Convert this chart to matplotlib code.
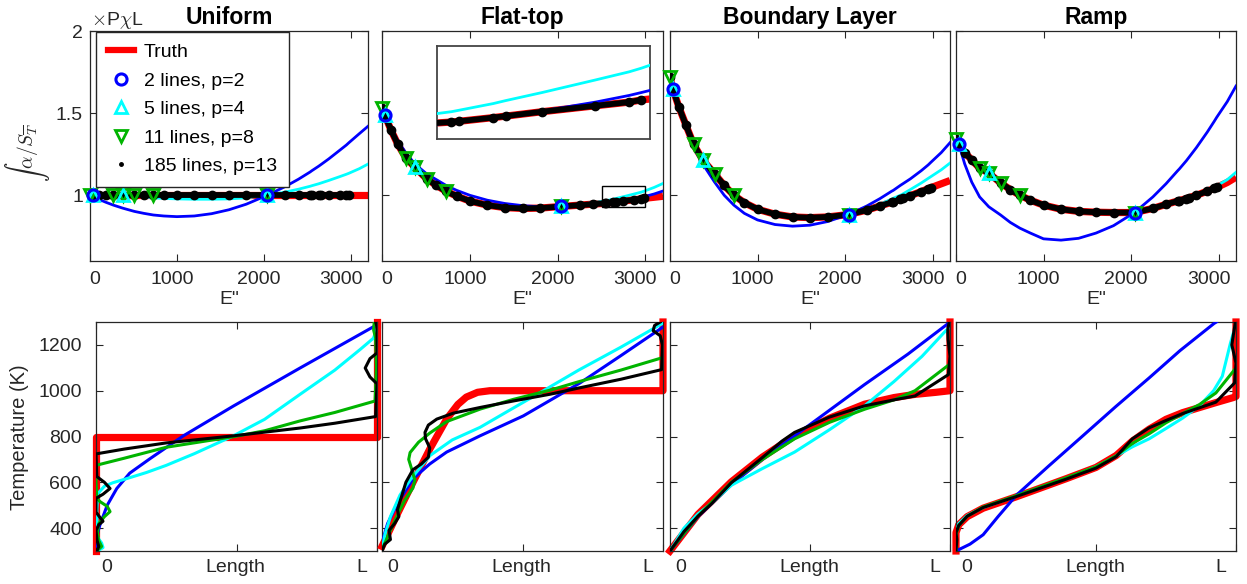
import matplotlib
matplotlib.use('Agg')
import matplotlib.pyplot as plt
from matplotlib.lines import Line2D
from matplotlib.patches import Rectangle
from matplotlib.transforms import ScaledTranslation

plt.rcParams['font.family'] = ['Liberation Sans', 'DejaVu Sans']
plt.rcParams['mathtext.fontset'] = 'cm'

# ── top row: E'' grid and the curves ─────────────────────────────────────────
E_GRID = [0, 30, 100, 180, 270, 375, 510, 620, 730, 850, 1000, 1200, 1400, 1600, 1800,
          2040, 2250, 2400, 2534, 2552, 2632, 2661, 2747, 2872, 2951, 2980, 3100, 3200]

LINES_2 = [30, 2040]
LINES_5 = [30, 375, 2040]
LINES_11 = [0, 270, 375, 510, 730, 2040]
LAST_185 = 2980          # the 185 lines run up to about here

TRUTH_UNI = [1.0, 1.0, 1.0, 1.0, 1.0, 1.0, 1.0, 1.0, 1.0, 1.0, 1.0, 1.0, 1.0, 1.0,
             1.0, 1.0, 1.0, 1.0, 1.0, 1.0, 1.0, 1.0, 1.0, 1.0, 1.0, 1.0, 1.0, 1.0]
BLUE_UNI = [1.0, 0.992, 0.976, 0.958, 0.940, 0.922, 0.902, 0.890, 0.880, 0.874, 0.870, 0.874,
            0.888, 0.912, 0.946, 1.0, 1.054, 1.098, 1.142, 1.149, 1.177, 1.188, 1.221, 1.273,
            1.306, 1.320, 1.375, 1.420]
CYAN_UNI = [1.0, 1.0, 0.999, 0.998, 0.999, 1.0, 0.995, 0.990, 0.985, 0.981, 0.978, 0.976,
            0.976, 0.978, 0.985, 1.0, 1.020, 1.037, 1.055, 1.058, 1.070, 1.075, 1.090, 1.113,
            1.128, 1.134, 1.162, 1.190]

TRUTH_FLAT = [1.53, 1.49, 1.40, 1.31, 1.23, 1.17, 1.10, 1.06, 1.025, 0.995, 0.965, 0.94,
              0.925, 0.92, 0.922, 0.932, 0.94, 0.946, 0.951, 0.952, 0.957, 0.959, 0.965,
              0.973, 0.978, 0.981, 0.988, 0.994]
BLUE_FLAT = [1.52, 1.49, 1.41, 1.33, 1.26, 1.19, 1.13, 1.095, 1.06, 1.03, 1.0, 0.97, 0.95,
             0.937, 0.93, 0.932, 0.937, 0.943, 0.950, 0.951, 0.957, 0.959, 0.966, 0.978,
             0.987, 0.991, 1.008, 1.026]
CYAN_FLAT = [1.52, 1.49, 1.40, 1.31, 1.235, 1.19, 1.11, 1.065, 1.03, 1.0, 0.97, 0.943,
             0.928, 0.922, 0.923, 0.932, 0.944, 0.955, 0.965, 0.967, 0.976, 0.980, 0.991,
             1.008, 1.019, 1.024, 1.048, 1.072]

TRUTH_BL = [1.72, 1.65, 1.54, 1.43, 1.31, 1.215, 1.13, 1.06, 1.0, 0.955, 0.915, 0.885,
            0.868, 0.864, 0.868, 0.883, 0.91, 0.935, 0.958, 0.961, 0.976, 0.981, 0.998,
            1.023, 1.04, 1.046, 1.07, 1.09]
BLUE_BL = [1.70, 1.65, 1.53, 1.41, 1.29, 1.19, 1.08, 1.0, 0.94, 0.89, 0.85, 0.822, 0.812,
           0.818, 0.84, 0.883, 0.935, 0.98, 1.025, 1.03, 1.06, 1.07, 1.10, 1.15, 1.185,
           1.20, 1.26, 1.32]
CYAN_BL = [1.71, 1.65, 1.54, 1.43, 1.31, 1.212, 1.12, 1.055, 1.0, 0.952, 0.912, 0.882,
           0.866, 0.862, 0.867, 0.883, 0.915, 0.945, 0.977, 0.982, 1.0, 1.008, 1.035,
           1.075, 1.103, 1.113, 1.155, 1.196]

TRUTH_RAMP = [1.34, 1.315, 1.26, 1.215, 1.165, 1.135, 1.075, 1.035, 1.0, 0.97, 0.94, 0.915,
              0.902, 0.897, 0.895, 0.895, 0.92, 0.945, 0.965, 0.968, 0.98, 0.985, 1.0,
              1.025, 1.042, 1.048, 1.078, 1.11]
BLUE_RAMP = [1.34, 1.315, 1.19, 1.08, 0.99, 0.93, 0.88, 0.835, 0.80, 0.77, 0.735, 0.727,
             0.738, 0.77, 0.815, 0.895, 0.99, 1.07, 1.15, 1.16, 1.21, 1.23, 1.29, 1.385,
             1.45, 1.475, 1.57, 1.665]
CYAN_RAMP = [1.34, 1.315, 1.26, 1.215, 1.165, 1.14, 1.075, 1.035, 1.0, 0.97, 0.94, 0.915,
             0.902, 0.897, 0.895, 0.895, 0.92, 0.945, 0.966, 0.969, 0.982, 0.988, 1.004,
             1.03, 1.05, 1.058, 1.095, 1.14]

# ── bottom row: temperature profiles (x = fraction of length, T in K) ────────
UNI_TRUTH_X = [0.0, 0.0, 1.0, 1.0]
UNI_TRUTH_T = [300, 800, 800, 1300]
UNI_BLUE_X = [0.0, 0.004, 0.014, 0.04, 0.074, 0.12, 0.192, 0.311, 0.489, 0.726, 0.987, 1.0]
UNI_BLUE_T = [320, 370, 414, 500, 573, 640, 703, 803, 933, 1099, 1279, 1285]
UNI_CYAN_X = [0.005, 0.025, 0.02, 0.005, 0.003, 0.006, 0.03, 0.06, 0.109, 0.18, 0.25, 0.35,
              0.489, 0.6, 0.726, 0.85, 0.94, 0.987, 1.0]
UNI_CYAN_T = [300, 315, 335, 360, 480, 550, 583, 598, 616, 643, 674, 725, 803, 875, 984,
              1090, 1180, 1229, 1270]
UNI_GREEN_X = [0.003, 0.02, 0.01, 0.005, 0.01, 0.03, 0.05, 0.04, 0.015, 0.003, 0.0, 0.0,
               0.1, 0.25, 0.4, 0.489, 0.6, 0.726, 0.85, 0.993, 0.998, 0.995, 0.988, 0.99]
UNI_GREEN_T = [300, 320, 345, 380, 420, 450, 472, 495, 515, 530, 600, 674, 705, 753, 782,
               799, 825, 868, 905, 955, 1100, 1230, 1265, 1300]
UNI_BLACK_X = [0.003, 0.01, 0.004, 0.0, 0.01, 0.025, 0.012, 0.0, 0.0, 0.025, 0.05, 0.03,
               0.003, 0.0, 0.1, 0.25, 0.489, 0.726, 0.85, 0.995, 1.0, 0.975, 0.958, 0.975,
               1.0, 1.0, 0.995]
UNI_BLACK_T = [300, 320, 345, 390, 415, 430, 450, 470, 530, 548, 573, 600, 625, 724, 745,
               772, 803, 837, 858, 887, 1030, 1060, 1099, 1140, 1165, 1280, 1300]

FLAT_TRUTH_X = [0.0, 0.05, 0.111, 0.17, 0.23, 0.27, 0.30, 0.34, 0.384, 1.0, 1.0]
FLAT_TRUTH_T = [320, 450, 602, 745, 876, 940, 972, 993, 1000, 1000, 1300]
FLAT_BLUE_X = [0.0, 0.005, 0.02, 0.052, 0.111, 0.17, 0.23, 0.349, 0.503, 0.705, 0.85, 1.0]
FLAT_BLUE_T = [310, 357, 420, 501, 616, 680, 732, 803, 890, 1034, 1153, 1278]
FLAT_CYAN_X = [0.0, 0.01, 0.03, 0.064, 0.1, 0.171, 0.25, 0.349, 0.45, 0.562, 0.7, 0.85, 1.0]
FLAT_CYAN_T = [300, 370, 450, 544, 610, 717, 785, 840, 912, 991, 1090, 1190, 1295]
FLAT_GREEN_X = [0.005, 0.03, 0.06, 0.08, 0.11, 0.117, 0.105, 0.095, 0.1, 0.13, 0.17, 0.23,
                0.35, 0.467, 0.6, 0.705, 0.85, 1.0]
FLAT_GREEN_T = [320, 390, 470, 520, 575, 610, 660, 700, 730, 775, 815, 865, 920, 962, 1003,
                1041, 1090, 1145]
FLAT_BLACK_X = [0.0, 0.01, 0.03, 0.025, 0.045, 0.06, 0.055, 0.07, 0.085, 0.11, 0.14, 0.165,
                0.17, 0.155, 0.153, 0.165, 0.195, 0.254, 0.35, 0.467, 0.6, 0.705, 0.85,
                0.995, 0.998, 0.99, 0.965, 0.97, 0.99]
FLAT_BLACK_T = [300, 330, 350, 390, 420, 450, 480, 540, 600, 655, 680, 710, 750, 790, 818,
                850, 876, 902, 927, 955, 985, 1013, 1050, 1092, 1200, 1240, 1262, 1285, 1300]

BL_TRUTH_X = [0.0, 0.1, 0.219, 0.33, 0.445, 0.57, 0.695, 0.8, 0.875, 0.95, 1.0, 1.0]
BL_TRUTH_T = [300, 460, 602, 710, 803, 880, 941, 970, 984, 993, 1000, 1300]
BL_BLUE_X = [0.0, 0.05, 0.1, 0.219, 0.33, 0.445, 0.57, 0.695, 0.85, 0.994, 1.0]
BL_BLUE_T = [300, 375, 450, 590, 700, 803, 915, 1027, 1160, 1294, 1300]
BL_CYAN_X = [0.0, 0.05, 0.1, 0.15, 0.219, 0.33, 0.445, 0.57, 0.695, 0.8, 0.9, 0.982, 1.0]
BL_CYAN_T = [300, 400, 462, 510, 587, 660, 732, 830, 934, 1040, 1150, 1258, 1280]
BL_GREEN_X = [0.0, 0.1, 0.219, 0.33, 0.445, 0.57, 0.695, 0.8, 0.875, 0.997]
BL_GREEN_T = [300, 452, 600, 700, 790, 862, 919, 960, 1000, 1114]
BL_BLACK_X = [0.0, 0.05, 0.1, 0.15, 0.219, 0.33, 0.4, 0.445, 0.57, 0.695, 0.8, 0.875, 0.994,
              1.0, 0.993, 0.992, 0.997]
BL_BLACK_T = [300, 385, 452, 508, 598, 708, 780, 818, 885, 934, 960, 977, 1070, 1150, 1225,
              1265, 1300]

RAMP_TRUTH_X = [0.0, 0.0, 0.01, 0.04, 0.097, 0.216, 0.394, 0.5, 0.572, 0.63, 0.69, 0.75,
                0.809, 0.928, 0.99, 1.0, 1.0]
RAMP_TRUTH_T = [300, 380, 415, 450, 487, 537, 616, 665, 717, 780, 832, 875, 904, 948, 970,
                975, 1300]
RAMP_BLUE_X = [0.0, 0.05, 0.097, 0.15, 0.216, 0.33, 0.453, 0.57, 0.69, 0.8, 0.922, 0.93]
RAMP_BLUE_T = [300, 330, 371, 450, 544, 670, 803, 930, 1056, 1175, 1294, 1300]
RAMP_CYAN_X = [0.0, 0.0, 0.01, 0.04, 0.097, 0.216, 0.394, 0.5, 0.572, 0.63, 0.69, 0.75,
               0.809, 0.87, 0.92, 0.951, 0.98, 0.99]
RAMP_CYAN_T = [310, 380, 420, 455, 490, 540, 618, 668, 715, 755, 790, 835, 880, 935, 1000,
               1063, 1207, 1250]
RAMP_GREEN_X = [0.0, 0.0, 0.01, 0.04, 0.097, 0.216, 0.394, 0.5, 0.572, 0.63, 0.69, 0.75,
                0.809, 0.87, 0.928, 0.995]
RAMP_GREEN_T = [305, 375, 412, 452, 492, 542, 620, 668, 716, 770, 812, 860, 900, 940, 990,
                1092]
RAMP_BLACK_X = [0.0, 0.003, 0.0, 0.01, 0.04, 0.097, 0.216, 0.394, 0.5, 0.572, 0.63, 0.69,
                0.75, 0.809, 0.928, 0.995, 1.0, 0.985, 0.99, 0.998]
RAMP_BLACK_T = [300, 350, 380, 412, 452, 490, 538, 614, 662, 712, 790, 838, 870, 900, 950,
                1034, 1120, 1200, 1240, 1300]

TITLES = ["Uniform", "Flat-top", "Boundary Layer", "Ramp"]

RED, BLUE, CYAN, GREEN = '#FF0000', '#0000FF', '#00FFFF', '#00B400'
GREY = '#262626'

W, H = 1247, 584
fig = plt.figure(figsize=(W / 100, H / 100), dpi=100)


def px_rect(x0, y0, x1, y1):
    return [x0 / W, 1 - y1 / H, (x1 - x0) / W, (y1 - y0) / H]


def shift_xlabels(ax, shifts):
    for tick, dx in zip(ax.xaxis.get_major_ticks(), shifts):
        tick.label1.set_transform(tick.label1.get_transform()
                                  + ScaledTranslation(dx / 100, 0, fig.dpi_scale_trans))


def style(ax):
    for s in ax.spines.values():
        s.set_color(GREY)
        s.set_linewidth(0.9)
    ax.tick_params(direction='in', top=True, right=True, length=5, width=0.8,
                   labelsize=14, colors=GREY)


def pick(vals, where):
    return [vals[E_GRID.index(e)] for e in where]


def draw_top(ax, truth, blue, cyan, markers=True):
    n = E_GRID.index(LAST_185) + 1
    ax.plot(E_GRID, truth, color=RED, lw=5.2, zorder=2, solid_capstyle='butt')
    ax.plot(E_GRID, blue, color=BLUE, lw=2, zorder=3)
    ax.plot(E_GRID, cyan, color=CYAN, lw=2, zorder=3)
    ax.plot(E_GRID[:n], truth[:n], color='k', lw=4.2, marker='o', ms=6,
            zorder=4)
    if markers:
        ax.plot(LINES_11, pick(truth, LINES_11), ls='none', marker='v', mfc='none',
                mec=GREEN, mew=2, ms=8.5, clip_on=False, zorder=5)
        ax.plot(LINES_5, pick(truth, LINES_5), ls='none', marker='^', mfc='none',
                mec=CYAN, mew=2, ms=8.5, clip_on=False, zorder=6)
        ax.plot(LINES_2, pick(truth, LINES_2), ls='none', marker='o', mfc='none',
                mec=BLUE, mew=2.2, ms=8, clip_on=False, zorder=7)


top_boxes = [(90, 31, 368, 261), (382, 31, 663, 261), (670, 31, 950, 261), (956, 31, 1236, 261)]
bot_boxes = [(96, 322, 377, 551), (382, 322, 663, 551), (670, 322, 950, 551), (956, 322, 1236, 551)]

top_data = [(TRUTH_UNI, BLUE_UNI, CYAN_UNI), (TRUTH_FLAT, BLUE_FLAT, CYAN_FLAT),
            (TRUTH_BL, BLUE_BL, CYAN_BL), (TRUTH_RAMP, BLUE_RAMP, CYAN_RAMP)]

bot_data = [
    (UNI_TRUTH_X, UNI_TRUTH_T, UNI_BLUE_X, UNI_BLUE_T, UNI_CYAN_X, UNI_CYAN_T,
     UNI_GREEN_X, UNI_GREEN_T, UNI_BLACK_X, UNI_BLACK_T),
    (FLAT_TRUTH_X, FLAT_TRUTH_T, FLAT_BLUE_X, FLAT_BLUE_T, FLAT_CYAN_X, FLAT_CYAN_T,
     FLAT_GREEN_X, FLAT_GREEN_T, FLAT_BLACK_X, FLAT_BLACK_T),
    (BL_TRUTH_X, BL_TRUTH_T, BL_BLUE_X, BL_BLUE_T, BL_CYAN_X, BL_CYAN_T,
     BL_GREEN_X, BL_GREEN_T, BL_BLACK_X, BL_BLACK_T),
    (RAMP_TRUTH_X, RAMP_TRUTH_T, RAMP_BLUE_X, RAMP_BLUE_T, RAMP_CYAN_X, RAMP_CYAN_T,
     RAMP_GREEN_X, RAMP_GREEN_T, RAMP_BLACK_X, RAMP_BLACK_T),
]

for i in range(4):
    # ── top: fitted ratio vs E'' ──
    ax = fig.add_axes(px_rect(*top_boxes[i]))
    truth, blue, cyan = top_data[i]
    draw_top(ax, truth, blue, cyan)
    ax.set_xlim(0, 3200)
    ax.set_ylim(0.6, 2.0)
    ax.set_xticks([0, 1000, 2000, 3000])
    ax.set_yticks([1, 1.5, 2])
    style(ax)
    ax.tick_params(axis='x', pad=7)
    ax.tick_params(axis='y', pad=5)
    if i > 0:
        ax.set_yticklabels([])
    else:
        ax.set_yticklabels(['1', '1.5', '2'])
    ax.set_xlabel('E"', fontsize=14, labelpad=2, color=GREY)
    ax.set_title(TITLES[i], fontsize=16.5, fontweight='bold', pad=5)
    shift_xlabels(ax, [5, -5, -5, -10])

    if i == 0:
        handles = [
            Line2D([], [], color=RED, lw=4.5),
            Line2D([], [], color=BLUE, marker='o', mfc='none', mew=2.2, ms=8, ls='none'),
            Line2D([], [], color=CYAN, marker='^', mfc='none', mew=2, ms=8.5, ls='none'),
            Line2D([], [], color=GREEN, marker='v', mfc='none', mew=2, ms=8.5, ls='none'),
            Line2D([], [], color='k', marker='.', ms=5, ls='none'),
        ]
        labels = ['Truth', '2 lines, p=2', '5 lines, p=4', '11 lines, p=8',
                  '185 lines, p=13']
        leg = ax.legend(handles, labels, loc='upper left', bbox_to_anchor=(0.022, 0.996),
                        borderaxespad=0, fontsize=14, frameon=True, fancybox=False,
                        framealpha=1, edgecolor=GREY, handlelength=1.35,
                        handletextpad=0.5, borderpad=0.6, labelspacing=0.56)
        leg.get_frame().set_linewidth(1)
        leg.set_zorder(10)

    if i == 1:
        ax.add_patch(Rectangle((2500, 0.928), 500, 0.126, fill=False, ec='k', lw=1,
                               zorder=8))
        ins = fig.add_axes(px_rect(437, 46, 650, 139))
        draw_top(ins, truth, blue, cyan, markers=False)
        ins.set_xlim(2500, 3000)
        ins.set_ylim(0.928, 1.054)
        ins.set_xticks([])
        ins.set_yticks([])
        for s in ins.spines.values():
            s.set_color('#444444')
            s.set_linewidth(1.3)

    # ── bottom: temperature profile along the path ──
    bx = fig.add_axes(px_rect(*bot_boxes[i]))
    tx, tt, blx, blt, cx, ct, gx, gt, kx, kt = bot_data[i]
    bx.plot(tx, tt, color=RED, lw=5.2, clip_on=False, zorder=2)
    bx.plot(blx, blt, color=BLUE, lw=2.2, zorder=3)
    bx.plot(cx, ct, color=CYAN, lw=2.2, zorder=4)
    bx.plot(gx, gt, color=GREEN, lw=2.2, zorder=5)
    bx.plot(kx, kt, color='k', lw=2.2, zorder=6)
    bx.set_xlim(0, 1)
    bx.set_ylim(300, 1300)
    bx.set_yticks([400, 600, 800, 1000, 1200])
    bx.set_xticks([0, 0.5, 1])
    bx.set_xticklabels(['0', 'Length', 'L'])
    style(bx)
    bx.tick_params(axis='x', pad=6)
    bx.tick_params(axis='y', pad=10)
    if i > 0:
        bx.set_yticklabels([])
    shift_xlabels(bx, [11, -1, -15])

fig.text(27 / W, 1 - 152 / H, r'$\int\,\alpha/S_{\overline{T}}$', rotation=90,
         fontsize=14, ha='center', va='center', color=GREY)
fig.text(20 / W, 1 - 437 / H, 'Temperature (K)', rotation=90, fontsize=14.5,
         ha='center', va='center', color=GREY)
fig.text(91 / W, 1 - 25 / H, r'$\times$P$\chi$L', fontsize=14, va='baseline',
         color=GREY)

fig.savefig('out.png', dpi=100)
